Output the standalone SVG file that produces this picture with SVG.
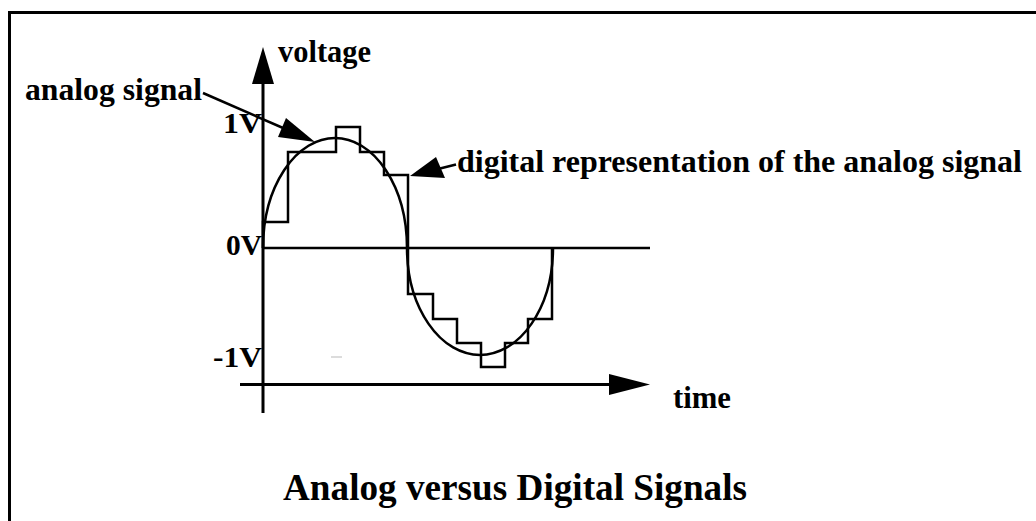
<svg xmlns="http://www.w3.org/2000/svg" width="1036" height="521" viewBox="0 0 1036 521">
<style>
.t{font-family:"Liberation Serif","Times New Roman",serif;font-weight:bold;fill:#000}
.ln{fill:none;stroke:#000;stroke-width:2.5}
.ax{fill:none;stroke:#000;stroke-width:3}
.ah{fill:#000;stroke:none}
</style>
<rect x="0" y="0" width="1036" height="521" fill="#fff"/>
<path d="M9.5,521 V12.5 H1036" fill="none" stroke="#000" stroke-width="3"/>
<g id="axes">
<line class="ax" x1="263" y1="80" x2="263" y2="413"/>
<polygon class="ah" points="263,47 274,84 252,84"/>
<line class="ax" x1="240" y1="384.5" x2="612" y2="384.5"/>
<polygon class="ah" points="650,384.5 609,374 609,395"/>
<line class="ln" x1="263" y1="248" x2="650" y2="248"/>
<line x1="331" y1="357" x2="342" y2="357" stroke="#d0d0d0" stroke-width="1.5"/>
</g>
<g id="analog-signal">
<path class="ln" d="M263,248 A72,110 0 0 1 407,248 A73,107 0 0 0 553,248"/>
</g>
<g id="digital-signal">
<path class="ln" d="M263,248 V222 H288 V152 H336 V127 H360 V152 H384 V175 H408 V294 H433 V319 H457 V343 H481 V367 H505 V343 H528 V319 H552 V248"/>
</g>
<g id="connectors">
<line class="ln" x1="203" y1="93" x2="290" y2="131"/>
<polygon class="ah" points="315,142 278,137 286,118"/>
<line class="ln" x1="456" y1="164.5" x2="436" y2="169.5"/>
<polygon class="ah" points="410,176 436,157 445,178"/>
</g>
<g id="labels">
<text class="t" x="278" y="62" font-size="32" textLength="93" lengthAdjust="spacingAndGlyphs">voltage</text>
<text class="t" x="25" y="100" font-size="32" textLength="177" lengthAdjust="spacingAndGlyphs">analog signal</text>
<text class="t" x="457" y="172" font-size="32" textLength="565" lengthAdjust="spacingAndGlyphs">digital representation of the analog signal</text>
<text class="t" x="223" y="133" font-size="30" textLength="39" lengthAdjust="spacingAndGlyphs">1V</text>
<text class="t" x="226" y="255" font-size="30" textLength="36" lengthAdjust="spacingAndGlyphs">0V</text>
<text class="t" x="213" y="367" font-size="30" textLength="49" lengthAdjust="spacingAndGlyphs">-1V</text>
<text class="t" x="673" y="408" font-size="32" textLength="58" lengthAdjust="spacingAndGlyphs">time</text>
<text class="t" x="283" y="500" font-size="37" textLength="464" lengthAdjust="spacingAndGlyphs">Analog versus Digital Signals</text>
</g>
</svg>
